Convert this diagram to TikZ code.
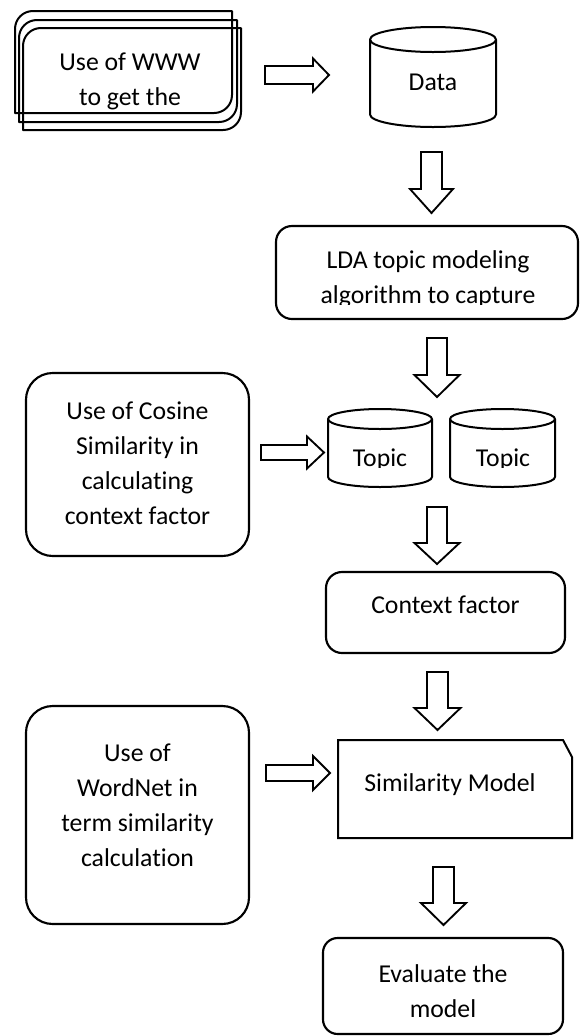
\documentclass[tikz,border=0pt]{standalone}
\usepackage{fontspec}
\setmainfont{Carlito}[Ligatures=NoCommon]
\usetikzlibrary{fit}
\tikzset{
  shapeline/.style={draw, line width=1.5pt, line join=round},
  arrowline/.style={draw, line width=1.4pt, line join=miter},
  box/.style={draw, line width=1.6pt, rounded corners=#1, inner sep=0pt},
  box/.default=12pt,
  txt/.style={font=\fontsize{19.3pt}{26.25pt}\selectfont, align=center, anchor=base, inner sep=0pt},
  pics/barrow/.style args={#1/#2/#3/#4}{code={
    \draw[arrowline] (0,{-#3}) -- ({#1-#2},{-#3}) -- ({#1-#2},{-#4}) -- (#1,0)
      -- ({#1-#2},{#4}) -- ({#1-#2},{#3}) -- (0,{#3}) -- cycle;}},
  pics/cyl/.style args={#1/#2/#3}{code={
    \draw[shapeline] (0,0) ellipse [x radius=#1, y radius=#2];
    \draw[shapeline] ({-#1},0) -- ({-#1},{#3})
      .. controls ({-#1},{#3+0.552*#2}) and ({-0.552*#1},{#3+#2}) .. (0,{#3+#2})
      .. controls ({0.552*#1},{#3+#2}) and ({#1},{#3+0.552*#2}) .. ({#1},{#3})
      -- ({#1},0);}}
}
\newcommand{\diagframe}[4]{%
  \draw[shapeline] (#1,#4) -- (#1,{#2+18})
    .. controls (#1,{#2+8}) and ({#1+8},#2) .. ({#1+18},#2)
    -- (#3,#2) -- (#3,{#4-18})
    .. controls (#3,{#4-8}) and ({#3-8},#4) .. ({#3-18},#4) -- cycle;}
\begin{document}
\begin{tikzpicture}[x=0.75pt,y=-0.75pt]
\useasboundingbox (0,0) rectangle (579,1036);

% multi-document: Use of WWW
\diagframe{15}{11}{232}{113}
\diagframe{19}{20}{237}{122}
\diagframe{23}{28}{241}{130}
\node[txt] (www) at (130,105) {Use of WWW\\to get the};

\pic at (265,75) {barrow=64/16/9/16.5};

% Data cylinder
\pic at (433,39.5) {cyl=63/12.5/75};
\node[txt] (data) at (433,90) {Data};

\pic[rotate=-90] at (431.5,152) {barrow=61/24/10.5/21.5};

% LDA
\node[box=12pt, fit={(276,226) (578,319)}] (lda) {};
\begin{scope}
  \clip (0,0) rectangle (579,304.5);
  \node[txt] (ldatext) at (428,303) {LDA topic modeling\\algorithm to capture};
\end{scope}

\pic[rotate=-90] at (437,338) {barrow=59/22/10/22.5};

% Cosine
\node[box=20pt, fit={(26,373) (249,556)}] (cosine) {};
\node[txt] (cosinetext) at (137.5,524) {Use of Cosine\\Similarity in\\calculating\\context factor};

\pic at (261,452.5) {barrow=63/17/7.5/16};

% Topic cylinders
\pic at (380,419) {cyl=52/10/58};
\pic at (502.5,419) {cyl=52.5/10/58};
\begin{scope}
  \clip (0,0) rectangle (579,467);
  \node[txt] (topic1) at (380,466) {Topic};
  \node[txt] (topic2) at (503,466) {Topic};
\end{scope}

\pic[rotate=-90] at (437,507) {barrow=57/21/10/22.5};

% Context factor
\node[box=12pt, fit={(326,572) (565,653)}] (context) {};
\node[txt] (contexttext) at (445.5,613) {Context factor};

\pic[rotate=-90] at (437.5,672) {barrow=58/22/10.5/23};

% WordNet
\node[box=20pt, fit={(26,706) (249,924)}] (wordnet) {};
\node[txt] (wordnettext) at (137.5,866) {Use of\\WordNet in\\term similarity\\calculation};

\pic at (266,773) {barrow=64/17/8/17};

% Similarity model (snipped corner)
\draw[shapeline, line join=miter] (338,740) -- (563,740) -- (572,757) -- (572,838) -- (338,838) -- cycle;
\node[txt] (sim) at (450,791) {Similarity Model};

\pic[rotate=-90] at (443.5,867) {barrow=58/22/10.5/22.5};

% Evaluate
\node[box=11pt, fit={(323,938) (563,1034)}] (evaluate) {};
\node[txt] (evaltext) at (443,1017) {Evaluate the\\model};
\end{tikzpicture}
\end{document}
